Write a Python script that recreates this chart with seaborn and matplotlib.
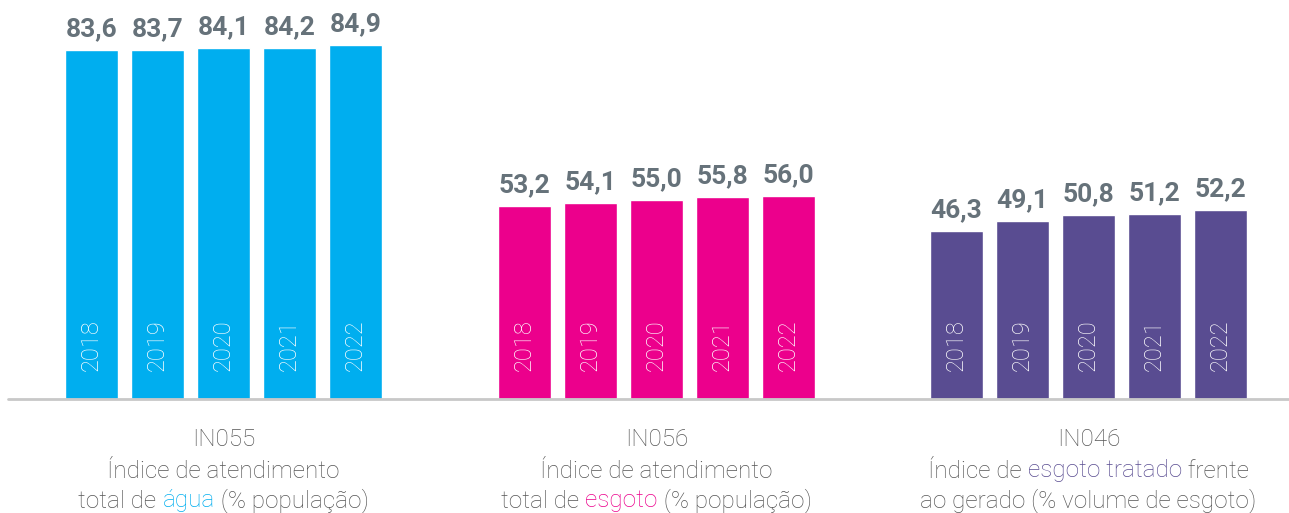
import matplotlib
matplotlib.use("Agg")
import matplotlib.pyplot as plt
from matplotlib.lines import Line2D
import seaborn as sns
import pandas as pd

years = ["2018", "2019", "2020", "2021", "2022"]
agua = [83.6, 83.7, 84.1, 84.2, 84.9]
esgoto = [53.2, 54.1, 55.0, 55.8, 56.0]
tratado = [46.3, 49.1, 50.8, 51.2, 52.2]

codes = ["IN055", "IN056", "IN046"]
captions = [
    [[("Índice de atendimento", None)], [("total de ", None), ("água", 0), (" (% população)", None)]],
    [[("Índice de atendimento", None)], [("total de ", None), ("esgoto", 1), (" (% população)", None)]],
    [[("Índice de ", None), ("esgoto tratado", 2), (" frente", None)], [("ao gerado (% volume de esgoto)", None)]],
]
colors = ["#00AEEF", "#EC008C", "#594C91"]
series = [agua, esgoto, tratado]
ytops = [95.7, 110.2, 110.2]

W, H = 1289, 513
DPI = 100
sns.set_style("white")
plt.rcParams["font.family"] = ["Roboto", "DejaVu Sans"]

fig = plt.figure(figsize=(W / DPI, H / DPI), dpi=DPI)
fig.patch.set_facecolor("white")

base_y = 399
centers = [223.5, 656.5, 1088.5]
ax_w = 433
spacing = 66.0
label_color = "#66727A"
text_color = "#555555"


def fx(px):
    return px / W


def fy(py):
    return 1 - py / H


for i, (vals, col, ytop, cx) in enumerate(zip(series, colors, ytops, centers)):
    ax = fig.add_axes([fx(cx - ax_w / 2), fy(base_y), fx(ax_w), base_y / H])
    df = pd.DataFrame({"year": years, "value": vals})
    sns.barplot(data=df, x="year", y="value", color=col, width=53 / spacing,
                saturation=1, ax=ax, errorbar=None)
    half = ax_w / spacing / 2
    ax.set_xlim(2 - half, 2 + half)
    ax.set_ylim(0, ytop)
    ax.axis("off")
    for j, (y, v) in enumerate(zip(years, vals)):
        ax.annotate(f"{v:.1f}".replace(".", ","), xy=(j, v), xytext=(0, 10),
                    textcoords="offset points", ha="center", va="baseline",
                    fontsize=19, fontweight="bold", color=label_color)
        ax.annotate(y, xy=(j, 0), xytext=(0, 39), textcoords="offset points",
                    ha="center", va="center", rotation=90, fontsize=17,
                    fontweight="light", color="white")

# baseline
fig.add_artist(Line2D([fx(8), fx(1289)], [fy(base_y), fy(base_y)],
                      color="#C8C8C8", linewidth=2, transform=fig.transFigure))

fig.canvas.draw()
renderer = fig.canvas.get_renderer()
FS = 17.5


def text_width(s):
    t = fig.text(0, 0, s + "|", fontsize=FS, fontweight="light")
    w1 = t.get_window_extent(renderer).width
    t.remove()
    t = fig.text(0, 0, "|", fontsize=FS, fontweight="light")
    w2 = t.get_window_extent(renderer).width
    t.remove()
    return w1 - w2


def rich_line(segments, cx, cy):
    full = "".join(s for s, _ in segments)
    total = text_width(full)
    left = cx - total / 2
    prefix = ""
    for s, c in segments:
        x = left + text_width(prefix)
        fig.text(fx(x), fy(cy), s, fontsize=FS, fontweight="light",
                 color=text_color if c is None else colors[c],
                 ha="left", va="center")
        prefix += s


for i, cx in enumerate(centers):
    rich_line([(codes[i], None)], cx, 440)
    rich_line(captions[i][0], cx, 471)
    rich_line(captions[i][1], cx, 501)

fig.savefig("out.png", dpi=DPI, facecolor="white")
